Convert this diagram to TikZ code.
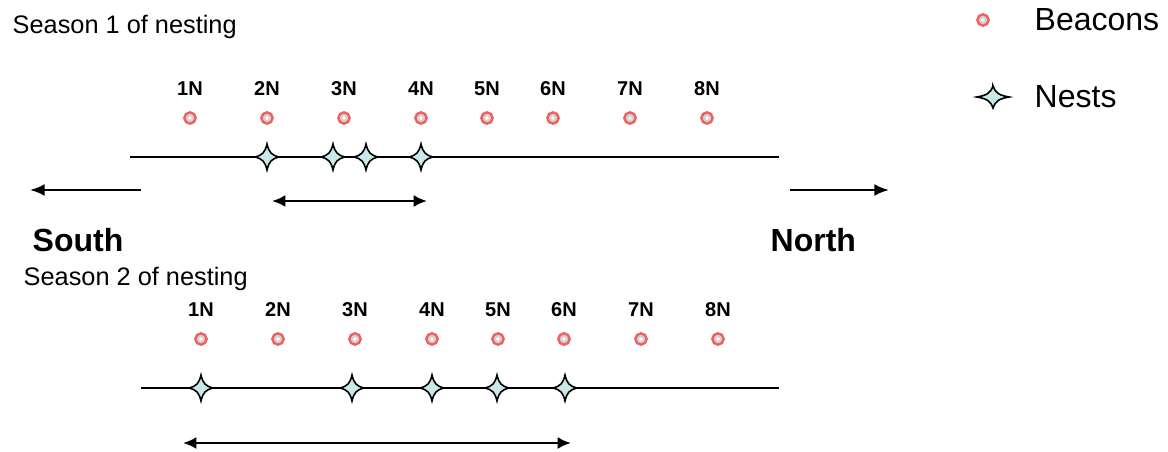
\documentclass[tikz,border=0pt]{standalone}
\usepackage{fontspec}
\setmainfont{Liberation Sans}
\usetikzlibrary{positioning,arrows.meta}

\definecolor{nestfill}{RGB}{200,232,234}
\definecolor{beaconred}{RGB}{240,96,96}

\tikzset{nestmark/.pic={
  \draw[line width=1.2pt, fill=nestfill]
    (0,-13) .. controls (2,-4.5) and (4.5,-2) .. (12,0)
    .. controls (4.5,2) and (2,4.5) .. (0,13)
    .. controls (-2,4.5) and (-4.5,2) .. (-12,0)
    .. controls (-4.5,-2) and (-2,-4.5) .. cycle;
}}

\begin{document}
\begin{tikzpicture}[x=0.75pt,y=-0.75pt,
  beacon/.style = {circle, draw=beaconred, line width=1.8pt, fill=gray!35, minimum size=8.5pt, inner sep=0pt},
  tag/.style = {font=\fontsize{15}{17}\selectfont\bfseries},
  title/.style = {font=\fontsize{19}{22}\selectfont, anchor=west},
  dir/.style = {font=\fontsize{24}{28}\selectfont\bfseries, anchor=west},
  key/.style = {font=\fontsize{24}{28}\selectfont, anchor=west},
  shore/.style = {line width=1.8pt},
  head/.style = {-{Latex[length=11pt,width=9pt]}},
  span/.style = {line width=1.8pt, {Latex[length=10pt,width=9pt]}-{Latex[length=10pt,width=9pt]}}]
\useasboundingbox (0,0) rectangle (1168,452);

% season 1
\node[title] (season1) at (8,27) {Season 1 of nesting};
\coordinate (s1west) at (130,157);
\coordinate (s1east) at (779,157);
\draw[shore] (s1west) -- (s1east);
\foreach \n/\x in {1/190,2/267,3/344,4/421,5/487,6/553,7/630,8/707} {
  \node[tag] (s1tag\n) at (\x,89) {\n N};
  \node[beacon] (s1b\n) at (\x,118) {};
  \fill[white] (s1b\n) circle (1.4pt);
}
\foreach \i/\x in {a/267,b/333,c/366,d/421}
  \pic (s1nest\i) at (\x,157) {nestmark};
\coordinate (s1left) at (272,201);
\coordinate (s1right) at (427,201);
\draw[span] (s1left) -- (s1right);

% directions
\coordinate (southtail) at (141,190);
\coordinate (southhead) at (30,190);
\coordinate (northtail) at (790,190);
\coordinate (northhead) at (889,190);
\draw[shore,head] (southtail) -- (southhead);
\draw[shore,head] (northtail) -- (northhead);
\node[dir] (south) at (28,240) {South};
\node[dir] (north) at (766,240) {North};

% season 2
\node[title] (season2) at (19,279) {Season 2 of nesting};
\coordinate (s2west) at (141,388);
\coordinate (s2east) at (779,388);
\draw[shore] (s2west) -- (s2east);
\foreach \n/\x in {1/201,2/278,3/355,4/432,5/498,6/564,7/641,8/718} {
  \node[tag] (s2tag\n) at (\x,310) {\n N};
  \node[beacon] (s2b\n) at (\x,339) {};
  \fill[white] (s2b\n) circle (1.4pt);
}
\foreach \i/\x in {a/201,b/352,c/432,d/497,e/565}
  \pic (s2nest\i) at (\x,388) {nestmark};
\coordinate (s2left) at (183,443);
\coordinate (s2right) at (571,443);
\draw[span] (s2left) -- (s2right);

% legend
\node[beacon] (keybeacon) at (983,20) {};
\fill[white] (keybeacon) circle (1.4pt);
\node[key] (keybeacontext) at (1030,20) {Beacons};
\pic[xscale=1.35, yscale=0.85] (keynest) at (993,97) {nestmark};
\node[key] (keynesttext) at (1030,97) {Nests};
\end{tikzpicture}
\end{document}
